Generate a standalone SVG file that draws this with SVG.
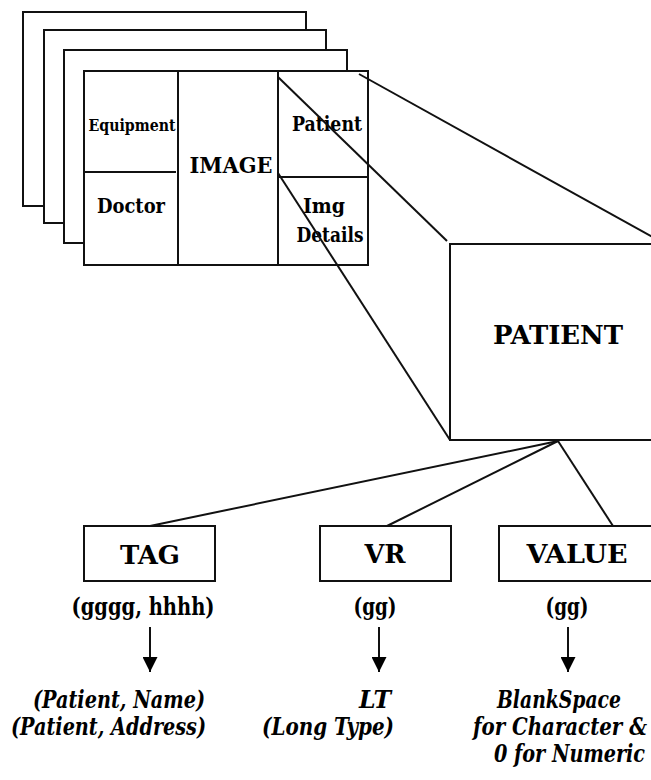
<svg xmlns="http://www.w3.org/2000/svg" width="651" height="780" viewBox="0 0 651 780">
<defs>
<style>
.box{fill:#fff;stroke:#111;stroke-width:2}
.ln{stroke:#111;stroke-width:2;fill:none}
.t{font-family:'DejaVu Serif Condensed','DejaVu Serif',serif;font-weight:bold;fill:#000}
.i{font-family:'DejaVu Serif Condensed','DejaVu Serif',serif;font-weight:bold;font-style:italic;fill:#000;font-size:23.5px}
</style>
<marker id="ah" viewBox="0 0 10 10" refX="10" refY="5" markerWidth="7.5" markerHeight="7.5" markerUnits="strokeWidth" orient="auto">
<path d="M0,0 L10,5 L0,10 Z" fill="#000"/>
</marker>
</defs>
<rect width="651" height="780" fill="#fff"/>
<g id="sheets">
<rect class="box" x="23" y="12" width="283" height="194"/>
<rect class="box" x="44" y="30" width="282" height="193"/>
<rect class="box" x="64" y="50" width="283" height="193"/>
</g>
<g id="image-record">
<rect class="box" x="84" y="71" width="284" height="194"/>
<line class="ln" x1="178" y1="71" x2="178" y2="265"/>
<line class="ln" x1="278" y1="71" x2="278" y2="265"/>
<line class="ln" x1="84" y1="172" x2="176" y2="172"/>
<line class="ln" x1="278" y1="177" x2="368" y2="177"/>
<text class="t" x="132" y="131" font-size="16.5" text-anchor="middle" textLength="87" lengthAdjust="spacingAndGlyphs">Equipment</text>
<text class="t" x="131" y="213" font-size="21" text-anchor="middle" textLength="68" lengthAdjust="spacingAndGlyphs">Doctor</text>
<text class="t" x="231" y="173" font-size="21.5" text-anchor="middle" textLength="83" lengthAdjust="spacingAndGlyphs">IMAGE</text>
<text class="t" x="327" y="131" font-size="21" text-anchor="middle" textLength="70" lengthAdjust="spacingAndGlyphs">Patient</text>
<text class="t" x="324" y="213" font-size="21" text-anchor="middle" textLength="42" lengthAdjust="spacingAndGlyphs">Img</text>
<text class="t" x="330" y="242" font-size="21" text-anchor="middle" textLength="67" lengthAdjust="spacingAndGlyphs">Details</text>
</g>
<g id="patient">
<rect class="box" x="450" y="244" width="230" height="196"/>
<text class="t" x="558" y="344" font-size="26.5" text-anchor="middle" textLength="130" lengthAdjust="spacingAndGlyphs">PATIENT</text>
</g>
<g id="connectors">
<line class="ln" x1="359" y1="74" x2="665" y2="244"/>
<line class="ln" x1="278" y1="77" x2="447" y2="241"/>
<line class="ln" x1="278" y1="173" x2="450" y2="440"/>
<line class="ln" x1="558" y1="441" x2="150" y2="526"/>
<line class="ln" x1="558" y1="441" x2="387" y2="526"/>
<line class="ln" x1="558" y1="441" x2="613" y2="526"/>
<line class="ln" x1="150" y1="627" x2="150" y2="672" marker-end="url(#ah)"/>
<line class="ln" x1="379" y1="627" x2="379" y2="672" marker-end="url(#ah)"/>
<line class="ln" x1="568" y1="627" x2="568" y2="672" marker-end="url(#ah)"/>
</g>
<g id="tag">
<rect class="box" x="84" y="526" width="131" height="55"/>
<text class="t" x="150" y="564" font-size="25.5" text-anchor="middle" textLength="60" lengthAdjust="spacingAndGlyphs">TAG</text>
<text class="t" x="143" y="615" font-size="24" text-anchor="middle" textLength="143" lengthAdjust="spacingAndGlyphs">(gggg, hhhh)</text>
<text class="i" x="205" y="708" text-anchor="end" textLength="172" lengthAdjust="spacingAndGlyphs">(Patient, Name)</text>
<text class="i" x="206" y="735" text-anchor="end" textLength="195" lengthAdjust="spacingAndGlyphs">(Patient, Address)</text>
</g>
<g id="vr">
<rect class="box" x="320" y="526" width="131" height="55"/>
<text class="t" x="385" y="563" font-size="25.5" text-anchor="middle" textLength="41" lengthAdjust="spacingAndGlyphs">VR</text>
<text class="t" x="375" y="615" font-size="24" text-anchor="middle" textLength="43" lengthAdjust="spacingAndGlyphs">(gg)</text>
<text class="i" x="391" y="708" text-anchor="end" textLength="32" lengthAdjust="spacingAndGlyphs">LT</text>
<text class="i" x="394" y="735" text-anchor="end" textLength="132" lengthAdjust="spacingAndGlyphs">(Long Type)</text>
</g>
<g id="value">
<rect class="box" x="499" y="526" width="180" height="55"/>
<text class="t" x="577" y="563" font-size="25.5" text-anchor="middle" textLength="101" lengthAdjust="spacingAndGlyphs">VALUE</text>
<text class="t" x="567" y="615" font-size="24" text-anchor="middle" textLength="43" lengthAdjust="spacingAndGlyphs">(gg)</text>
<text class="i" x="497" y="708" textLength="124" lengthAdjust="spacingAndGlyphs">BlankSpace</text>
<text class="i" x="473" y="735" font-size="21.5" textLength="174" lengthAdjust="spacingAndGlyphs">for Character &amp;</text>
<text class="i" x="494" y="762" font-size="21.5" textLength="151" lengthAdjust="spacingAndGlyphs">0 for Numeric</text>
</g>
</svg>
